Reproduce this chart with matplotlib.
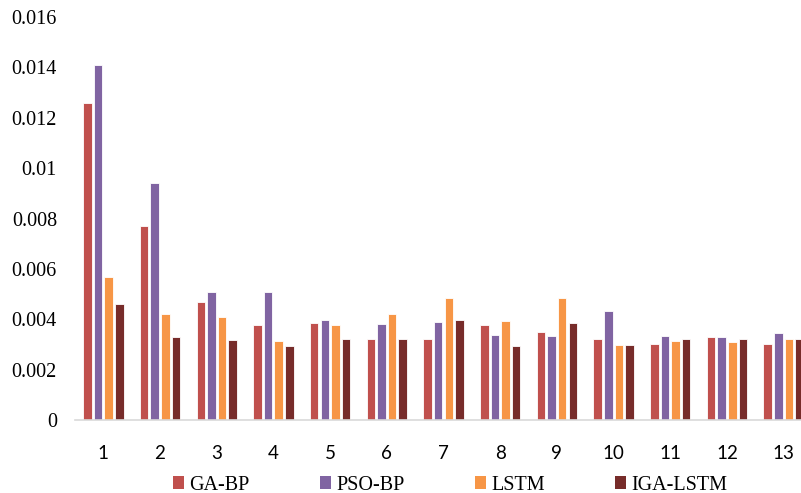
import numpy as np
import matplotlib.pyplot as plt
from matplotlib.patches import Patch

# data
groups = [str(i) for i in range(1, 14)]
ga_bp = [0.0126, 0.0077, 0.00468, 0.00377, 0.00385, 0.00321, 0.00321, 0.00376, 0.00349, 0.00321, 0.00303, 0.00331, 0.00303]
pso_bp = [0.0141, 0.0094, 0.00508, 0.00508, 0.00397, 0.00381, 0.00389, 0.00339, 0.00332, 0.00431, 0.00332, 0.00331, 0.00347]
lstm = [0.00567, 0.0042, 0.00409, 0.00313, 0.00377, 0.00422, 0.00485, 0.00394, 0.00485, 0.00299, 0.00312, 0.0031, 0.00321]
iga_lstm = [0.0046, 0.0033, 0.00317, 0.00294, 0.00321, 0.00321, 0.00396, 0.00294, 0.00385, 0.00299, 0.00321, 0.00321, 0.00321]

series = [("GA-BP", ga_bp, "#C0504D"),
          ("PSO-BP", pso_bp, "#8064A2"),
          ("LSTM", lstm, "#F79646"),
          ("IGA-LSTM", iga_lstm, "#772C2A")]

fig = plt.figure(figsize=(8.01, 4.93), dpi=100)
ax = fig.add_axes([75/801, 1-420/493, 737/801, (420-17)/493])

x = np.arange(len(groups))
w = 0.15
step = 0.187
for i, (name, vals, col) in enumerate(series):
    ax.bar(x + (i - 1.5)*step, vals, width=w, color=col, edgecolor="white", linewidth=0.6, label=name)

ax.set_xlim(-0.5, len(groups) - 0.5)
ax.set_ylim(0, 0.016)
ax.set_yticks(np.arange(0, 0.0161, 0.002))
ax.set_yticklabels(["0", "0.002", "0.004", "0.006", "0.008", "0.01", "0.012", "0.014", "0.016"],
                   family="Liberation Serif", fontsize=14.5)
ax.set_xticks(x)
ax.set_xticklabels(groups, family="Lato", fontsize=13.5)
ax.tick_params(axis="y", length=0, pad=13)
ax.tick_params(axis="x", length=0, pad=18)
for s in ["top", "right", "left"]:
    ax.spines[s].set_visible(False)
ax.spines["bottom"].set_color("#D9D9D9")
ax.spines["bottom"].set_linewidth(1.2)

handles = [Patch(facecolor=c, edgecolor="none") for _, _, c in series]
fig.legend(handles, [n for n, _, _ in series], loc="center", bbox_to_anchor=(0.562, 0.016),
           ncol=4, frameon=False, prop={"family": "Liberation Serif", "size": 14.5},
           handlelength=0.55, handleheight=0.55, handletextpad=0.25, columnspacing=3.5,
           borderpad=0, borderaxespad=0)

fig.savefig("out.png", dpi=100)
